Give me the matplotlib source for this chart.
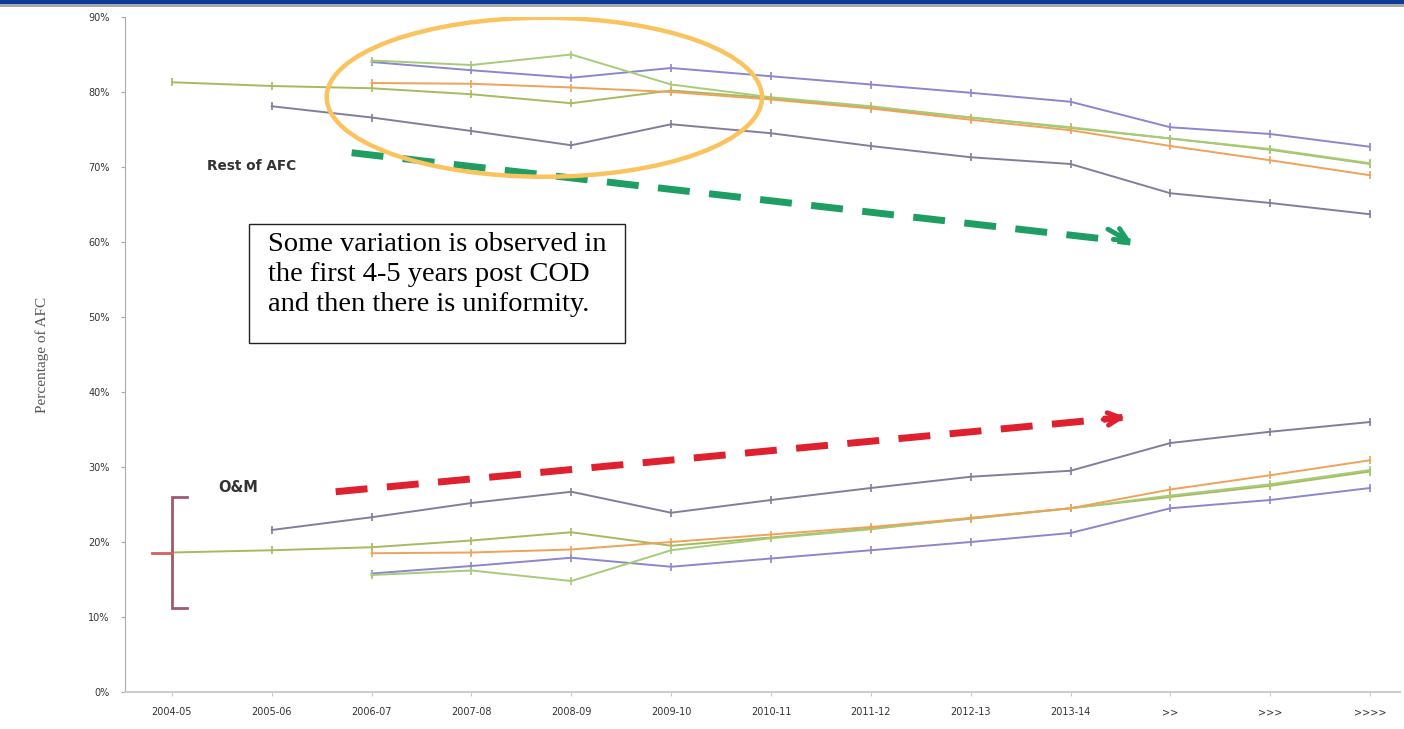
import matplotlib
matplotlib.use("Agg")
import matplotlib.pyplot as plt
from matplotlib.patches import Ellipse, Rectangle
import numpy as np

categories = ["2004-05", "2005-06", "2006-07", "2007-08", "2008-09", "2009-10",
              "2010-11", "2011-12", "2012-13", "2013-14", ">>", ">>>", ">>>>"]
yticks = [0.0, 0.1, 0.2, 0.3, 0.4, 0.5, 0.6, 0.7, 0.8, 0.9]
ytick_labels = ["0%", "10%", "20%", "30%", "40%", "50%", "60%", "70%", "80%", "90%"]

# Rest of AFC (upper) series, fractions; None = no data
rest_s1 = [0.813, 0.808, 0.805, 0.797, 0.785, 0.802, 0.792, 0.779, 0.766, 0.752, 0.738, 0.723, 0.704]
rest_s2 = [None, 0.781, 0.766, 0.748, 0.729, 0.757, 0.745, 0.728, 0.713, 0.704, 0.665, 0.652, 0.637]
rest_s3 = [None, None, 0.840, 0.829, 0.819, 0.832, 0.821, 0.810, 0.799, 0.787, 0.753, 0.744, 0.727]
rest_s4 = [None, None, 0.842, 0.836, 0.850, 0.810, 0.793, 0.781, 0.766, 0.753, 0.738, 0.724, 0.705]
rest_s5 = [None, None, 0.812, 0.811, 0.806, 0.800, 0.790, 0.778, 0.763, 0.749, 0.728, 0.709, 0.689]

# O&M (lower) series
om_s1 = [0.186, 0.189, 0.193, 0.202, 0.213, 0.195, 0.206, 0.218, 0.231, 0.245, 0.260, 0.275, 0.294]
om_s2 = [None, 0.216, 0.233, 0.252, 0.267, 0.239, 0.256, 0.272, 0.287, 0.295, 0.332, 0.347, 0.360]
om_s3 = [None, None, 0.158, 0.168, 0.179, 0.167, 0.178, 0.189, 0.200, 0.212, 0.245, 0.256, 0.272]
om_s4 = [None, None, 0.156, 0.162, 0.148, 0.189, 0.205, 0.217, 0.232, 0.245, 0.262, 0.277, 0.296]
om_s5 = [None, None, 0.185, 0.186, 0.190, 0.200, 0.210, 0.220, 0.232, 0.245, 0.270, 0.289, 0.309]

colors = ["#a9b95e", "#837d9c", "#8c86cc", "#a6cc78", "#eea25a"]

fig = plt.figure(figsize=(14.04, 7.29), dpi=100)
fig.patch.set_facecolor("white")
ax = fig.add_axes([125/1404, 1-692/729, (1400-125)/1404, (692-17)/729])

x = np.arange(len(categories))

def arr(v):
    return np.array([np.nan if a is None else a for a in v], dtype=float)

for ser, c in zip([rest_s1, rest_s2, rest_s3, rest_s4, rest_s5], colors):
    ax.plot(x, arr(ser), color=c, lw=1.4, marker="|", ms=6, mew=1.2)
for ser, c in zip([om_s1, om_s2, om_s3, om_s4, om_s5], colors):
    ax.plot(x, arr(ser), color=c, lw=1.4, marker="|", ms=6, mew=1.2)

ax.set_xlim(-0.47, 12.3)
ax.set_ylim(0, 0.9)
ax.set_xticks(x)
ax.set_xticklabels(categories, fontsize=7, color="#333333")
ax.set_yticks(yticks)
ax.set_yticklabels(ytick_labels, fontsize=7, color="#333333")
ax.tick_params(axis="y", length=3, color="#aaaaaa", pad=8)
ax.tick_params(axis="x", length=3, color="#cccccc", pad=8)
for s in ["top", "right"]:
    ax.spines[s].set_visible(False)
ax.spines["left"].set_color("#aaaaaa")
ax.spines["bottom"].set_color("#cccccc")
ax.spines["bottom"].set_linewidth(1.5)

ax.set_ylabel("Percentage of AFC", family="Liberation Serif", fontsize=11,
              color="#555555", labelpad=28)

# Ellipse highlight
ax.add_patch(Ellipse((3.73, 0.793), 4.36, 0.212, fill=False,
                     edgecolor="#fbc35e", lw=3.2, zorder=5))

# Green dashed arrow
gx0, gy0, gx1, gy1 = 1.80, 0.719, 9.60, 0.600
ax.plot([gx0, gx1], [gy0, gy1], color="#1e9e63", lw=5, ls=(0, (4.6, 2.8)),
        solid_capstyle="butt", zorder=4)
ax.annotate("", xy=(9.64, 0.597), xytext=(9.35, 0.619),
            arrowprops=dict(arrowstyle="->,head_length=0.9,head_width=0.45",
                            color="#1e9e63", lw=3.5), zorder=4)

# Red dashed arrow
rx0, ry0, rx1, ry1 = 1.64, 0.267, 9.52, 0.366
ax.plot([rx0, rx1], [ry0, ry1], color="#e0202e", lw=5, ls=(0, (4.6, 2.8)),
        solid_capstyle="butt", zorder=4)
ax.annotate("", xy=(9.58, 0.367), xytext=(9.30, 0.363),
            arrowprops=dict(arrowstyle="->,head_length=0.9,head_width=0.45",
                            color="#e0202e", lw=3.5), zorder=4)

# Labels
ax.text(0.35, 0.702, "Rest of AFC", fontsize=9.8, fontweight="bold",
        color="#333333", va="center", ha="left")
ax.text(0.46, 0.273, "O&M", fontsize=10.5, fontweight="bold",
        color="#333333", va="center", ha="left")

# Bracket
bc = "#a05a6c"
ax.plot([0.15, 0.0, 0.0, 0.15], [0.260, 0.260, 0.112, 0.112], color=bc, lw=2,
        solid_joinstyle="miter", zorder=4)
ax.plot([-0.2, 0.0], [0.185, 0.185], color="#d06060", lw=2, zorder=4)

# Text box
ax.add_patch(Rectangle((0.772, 0.465), 4.54 - 0.772, 0.624 - 0.465,
                       facecolor="white", edgecolor="#222222", lw=1.0, zorder=6))
ax.text(0.96, 0.613,
        "Some variation is observed in\nthe first 4-5 years post COD\nand then there is uniformity.",
        family="Liberation Serif", fontsize=20.5, color="black", va="top", ha="left",
        linespacing=1.26, zorder=7)

# Top banner
fig.patches.append(Rectangle((0, 1 - 4/729), 1, 4/729, transform=fig.transFigure,
                             facecolor="#0a3a9a", edgecolor="none"))
fig.patches.append(Rectangle((0, 1 - 7/729), 1, 3/729, transform=fig.transFigure,
                             facecolor="#a8a8a8", edgecolor="none"))

fig.savefig("out.png", dpi=100, facecolor="white")
